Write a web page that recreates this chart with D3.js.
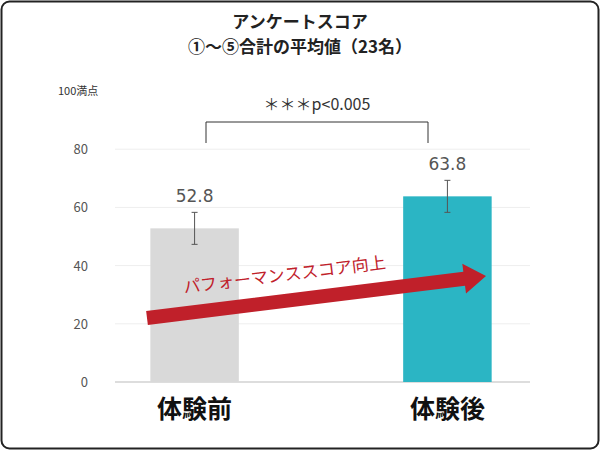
<!DOCTYPE html><html><head><meta charset="utf-8"><script src="https://cdn.jsdelivr.net/npm/d3@7"></script>
<style>body{margin:0;background:#fff}svg{font-family:"Noto Sans CJK JP","Noto Sans",sans-serif}</style></head><body><svg width="600" height="450"></svg>
<script>
const categories=["体験前","体験後"];
const values=[52.8,63.8];
const errors=[5.5,5.5];
const colors=["#d9d9d9","#2bb5c4"];
const yTicks=[0,20,40,60,80,100];
const svg=d3.select("svg");
svg.append("rect").attr("x",1.5).attr("y",1.5).attr("width",597).attr("height",447).attr("rx",8).attr("fill","#fff").attr("stroke","#222").attr("stroke-width",2);
const y=d3.scaleLinear().domain([0,100]).range([382,91]);
const x=d3.scaleBand().domain(categories).range([120,522]).paddingInner(0.65).paddingOuter(0.12);
const g=svg.append("g");
yTicks.forEach(t=>{
 if(t>0&&t<100) g.append("line").attr("x1",115).attr("x2",530).attr("y1",y(t)).attr("y2",y(t)).attr("stroke","#eee");
 if(t<100) g.append("text").attr("x",88).attr("y",y(t)+5).attr("text-anchor","end").attr("font-size",13).attr("fill","#555").text(t);
});
g.append("text").attr("x",58).attr("y",y(100)+4).attr("font-size",11).attr("fill","#333").text("100満点");
g.append("line").attr("x1",115).attr("x2",530).attr("y1",y(0)).attr("y2",y(0)).attr("stroke","#bbb");
categories.forEach((c,i)=>{
 const bx=x(c),w=x.bandwidth(),cx=bx+w/2;
 g.append("rect").attr("x",bx).attr("y",y(values[i])).attr("width",w).attr("height",y(0)-y(values[i])).attr("fill",colors[i]);
 const t=y(values[i]+errors[i]),b=y(values[i]-errors[i]);
 g.append("line").attr("x1",cx).attr("x2",cx).attr("y1",t).attr("y2",b).attr("stroke","#555");
 [t,b].forEach(yy=>g.append("line").attr("x1",cx-3).attr("x2",cx+3).attr("y1",yy).attr("y2",yy).attr("stroke","#555"));
 g.append("text").attr("x",cx).attr("y",t-10).attr("text-anchor","middle").attr("font-size",17).attr("fill","#555").attr("font-family","DejaVu Sans").text(values[i].toFixed(1));
 g.append("text").attr("x",cx).attr("y",418).attr("text-anchor","middle").attr("font-size",25).attr("font-weight","bold").attr("fill","#111").text(c);
});
g.append("path").attr("d","M206,143V122H428V143").attr("fill","none").attr("stroke","#333");
g.append("text").attr("x",317).attr("y",110).attr("text-anchor","middle").attr("font-size",16).attr("fill","#333").text("＊＊＊p<0.005");
// arrow
const ax1=147,ay1=318,ax2=486,ay2=276;
const ang=Math.atan2(ay2-ay1,ax2-ax1)*180/Math.PI;
const len=Math.hypot(ax2-ax1,ay2-ay1);
const ag=svg.append("g").attr("transform",`translate(${ax1},${ay1}) rotate(${ang})`);
ag.append("path").attr("d",`M0,-7H${len-22}V-15L${len},0L${len-22},15V7H0Z`).attr("fill","#c0202a");
ag.append("text").attr("x",40).attr("y",-20).attr("font-size",17).attr("fill","#c0202a").text("パフォーマンススコア向上");
svg.append("text").attr("x",300).attr("y",28).attr("text-anchor","middle").attr("font-size",17).attr("font-weight","bold").attr("fill","#222").text("アンケートスコア");
svg.append("text").attr("x",300).attr("y",53).attr("text-anchor","middle").attr("font-size",17).attr("font-weight","bold").attr("fill","#222").text("①～⑤合計の平均値（23名）");
</script></body></html>
